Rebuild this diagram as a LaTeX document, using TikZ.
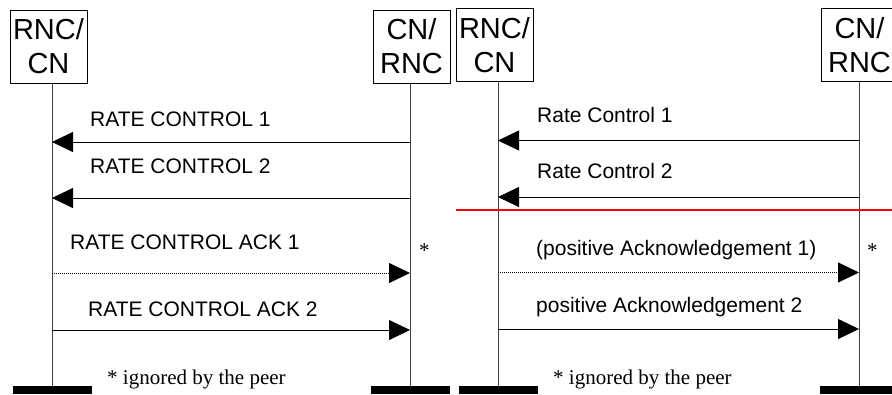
\documentclass[tikz,border=0pt]{standalone}
\usepackage{fontspec}
\setmainfont{Liberation Serif}
\newfontfamily\arialfont{Liberation Sans}
\usepackage{xcolor}
\usepackage{tikz}
\usetikzlibrary{positioning, arrows.meta, calc}
\definecolor{Life_Gray}{HTML}{404040}
\definecolor{Cut_Red}{HTML}{FF0000}

\begin{document}
\begin{tikzpicture}[x=1pt, y=-1pt,
  entity/.style={draw, line width=0.8pt, minimum width=77pt, minimum height=73pt,
    inner sep=0pt, align=center, font=\arialfont\fontsize{29}{34}\selectfont},
  stopbar/.style={fill=black, minimum width=79pt, minimum height=8pt, inner sep=0pt},
  life/.style={line width=0.9pt, Life_Gray},
  msg/.style={-{Triangle[length=21pt, width=20pt]}, line width=0.8pt},
  optmsg/.style={msg, dash pattern=on 1pt off 1pt},
  lbl/.style={anchor=base west, inner sep=0pt, font=\arialfont\fontsize{21}{25}\selectfont},
  note/.style={anchor=base west, inner sep=0pt, font=\fontsize{21}{25}\selectfont}
]
  \useasboundingbox (0,0) rectangle (892,394);

  % Left diagram: entities and stop bars
  \node[entity] (rncA) at (48.5,46.5) {RNC/\\CN};
  \node[entity] (cnA) at (411.5,46.5) {CN/\\RNC};
  \node[stopbar] (endA1) at (52,390) {};
  \node[stopbar] (endA2) at (410,390) {};

  % Right diagram: entities and stop bars
  \node[entity] (rncB) at (494.5,45) {RNC/\\CN};
  \node[entity] (cnB) at (859.5,45) {CN/\\RNC};
  \node[stopbar] (endB1) at (498,390) {};
  \node[stopbar] (endB2) at (859,390) {};

  % Lifelines
  \draw[life] (endA1 |- rncA.south) -- (endA1.north);
  \draw[life] (endA2 |- cnA.south) -- (endA2.north);
  \draw[life] (endB1 |- rncB.south) -- (endB1.north);
  \draw[life] (endB2 |- cnB.south) -- (endB2.north);

  % Left messages
  \draw[msg] (endA2 |- 0,142) -- (endA1 |- 0,142);
  \node[lbl] (rc1) at (90,126) {RATE CONTROL 1};
  \draw[msg] (endA2 |- 0,198) -- (endA1 |- 0,198);
  \node[lbl] (rc2) at (90,173) {RATE CONTROL 2};
  \draw[optmsg] (endA1 |- 0,273) -- (endA2 |- 0,273);
  \node[lbl] (ack1) at (70,249) {RATE CONTROL ACK 1};
  \node[note] (starA) at (419,257) {*};
  \draw[msg] (endA1 |- 0,330) -- (endA2 |- 0,330);
  \node[lbl] (ack2) at (88,316) {RATE CONTROL ACK 2};
  \node[note] (noteA) at (107,384) {* ignored by the peer};

  % Right messages
  \draw[msg] (endB2 |- 0,140.5) -- (endB1 |- 0,140.5);
  \node[lbl] (rcB1) at (537,122) {Rate Control 1};
  \draw[msg] (endB2 |- 0,197) -- (endB1 |- 0,197);
  \node[lbl] (rcB2) at (537,178) {Rate Control 2};
  % red cut line
  \draw[Cut_Red, line width=1.3pt] (rncB.west |- 0,210) -- (892,210);
  \draw[optmsg] (endB1 |- 0,272.5) -- (endB2 |- 0,272.5);
  \node[lbl] (pack1) at (536,255) {(positive Acknowledgement 1)};
  \node[note] (starB) at (867,257) {*};
  \draw[msg] (endB1 |- 0,329) -- (endB2 |- 0,329);
  \node[lbl] (pack2) at (536,312) {positive Acknowledgement 2};
  \node[note] (noteB) at (553,384) {* ignored by the peer};
\end{tikzpicture}
\end{document}
